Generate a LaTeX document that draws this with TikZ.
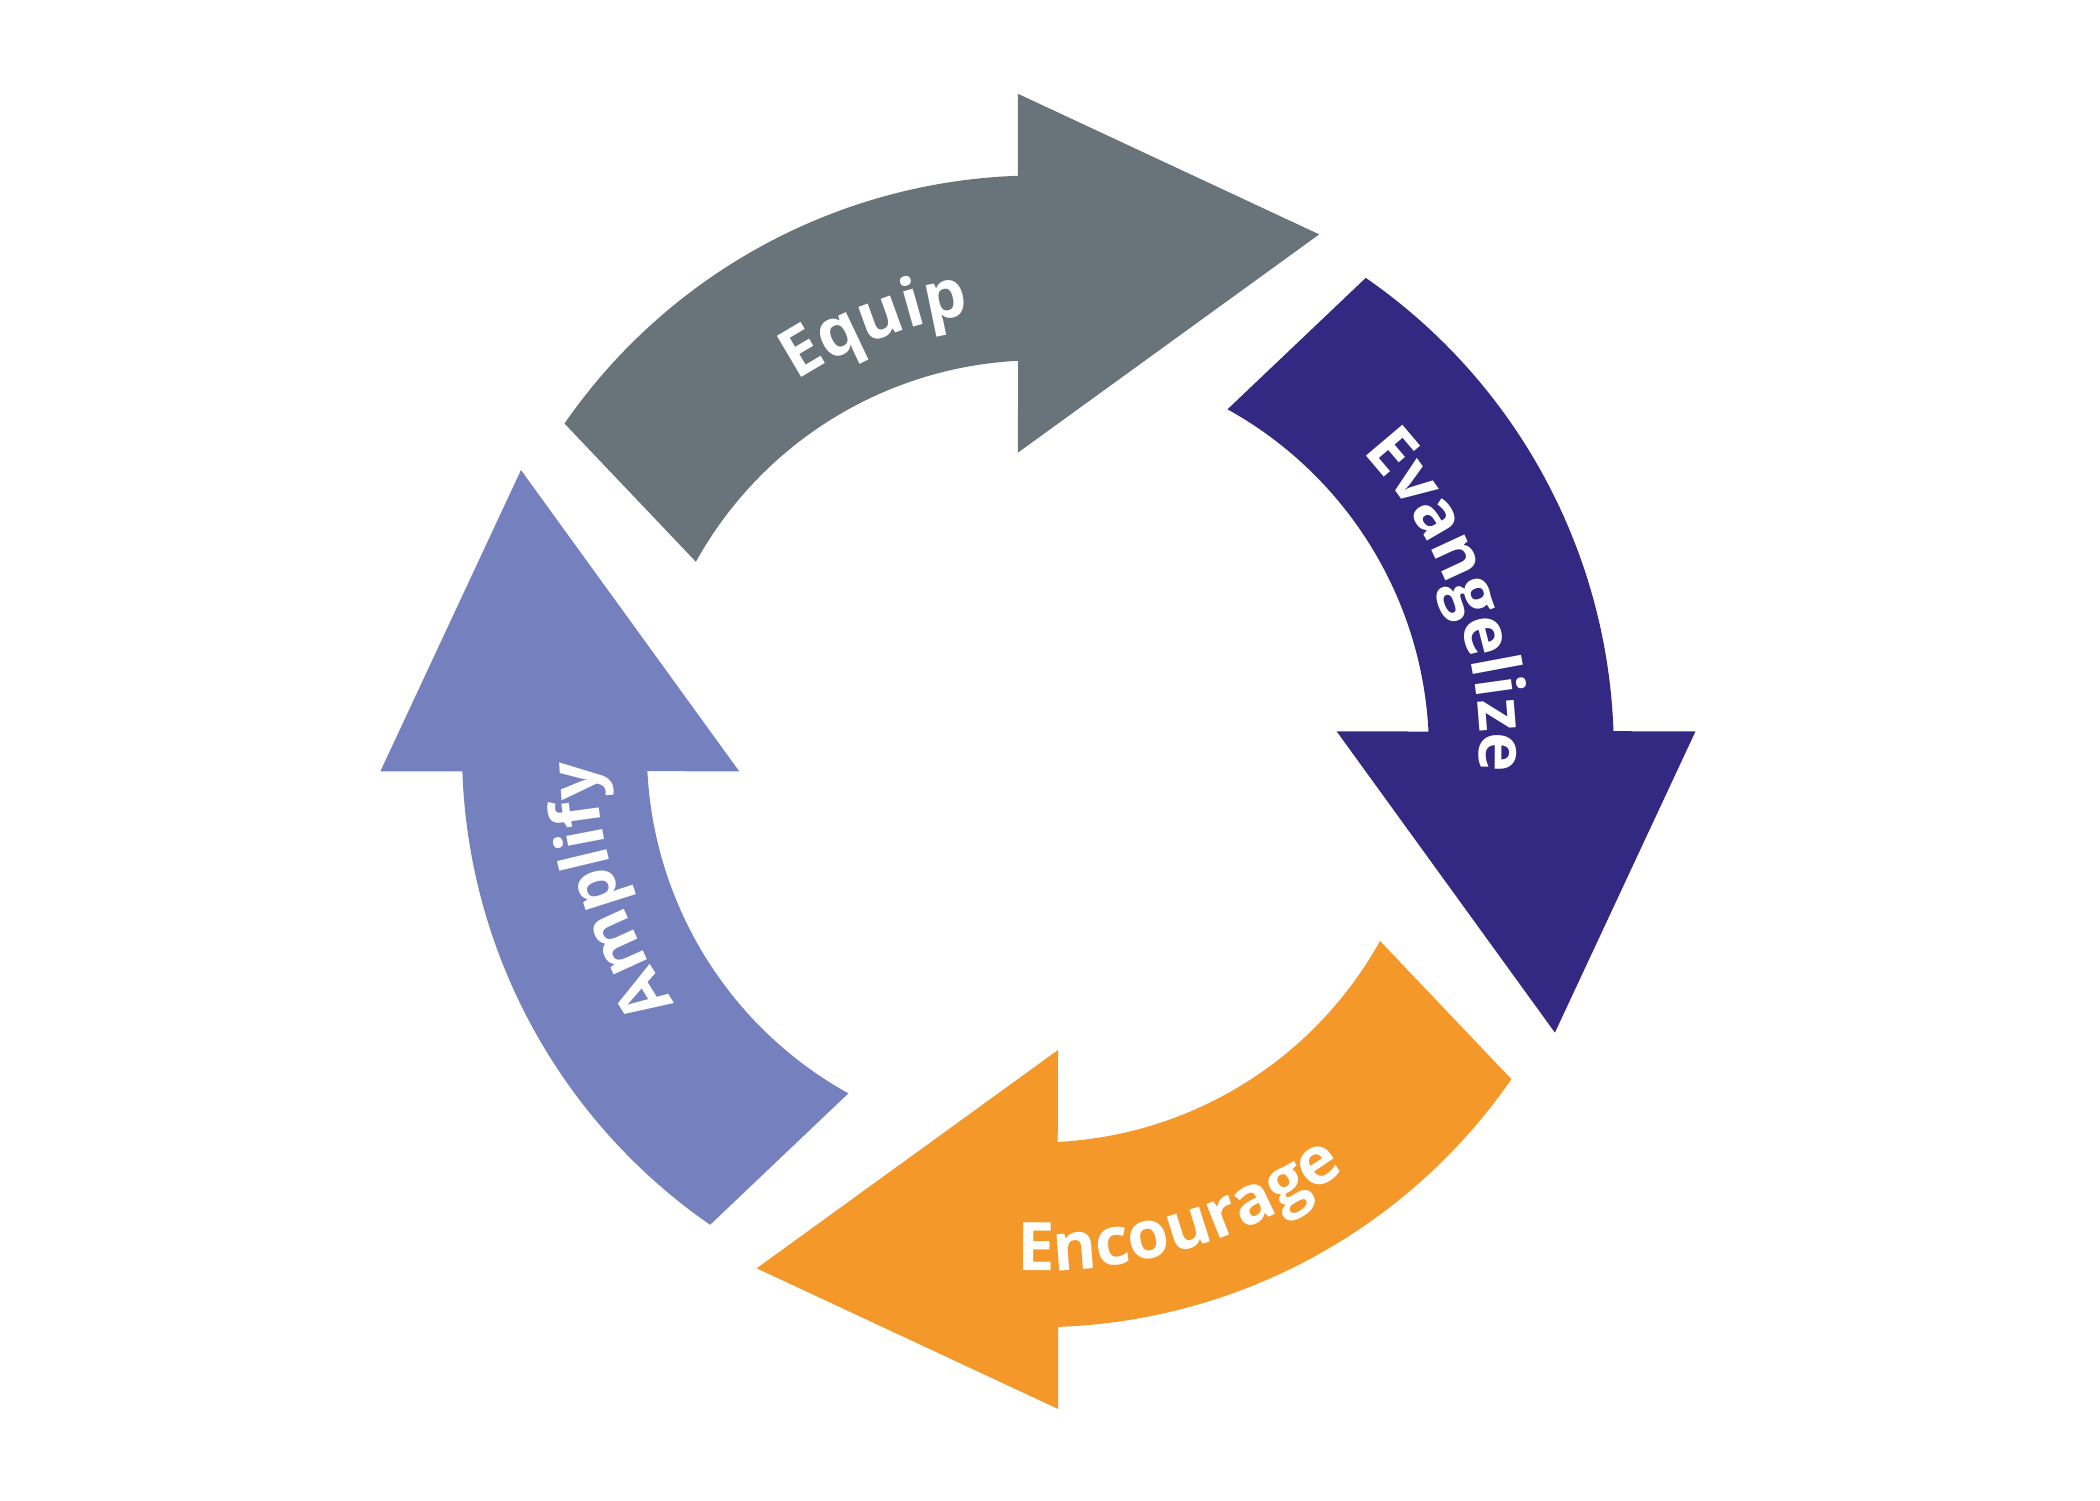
\documentclass[tikz,border=0pt]{standalone}
\usepackage{fontspec}
\setmainfont{Open Sans}
\usetikzlibrary{decorations.text}
\definecolor{cgray}{HTML}{68737A}
\definecolor{cpurple}{HTML}{332882}
\definecolor{corange}{HTML}{F49829}
\definecolor{cblue}{HTML}{7580BE}
\tikzset{
  arrowshape/.pic={\fill[#1] (145.3:430) arc[start angle=145.3,end angle=92,radius=430] -- (-15,491) -- (210,386) -- (-15,223) -- (92.9:292) arc[start angle=92.9,end angle=151,radius=292] -- cycle;},
  lbl/.style={decorate,decoration={text along path,text align=center,text color=white,text={|\fontsize{25}{28}\selectfont\bfseries|#1}}}
}
\begin{document}
\begin{tikzpicture}[x=0.5pt,y=0.5pt]
\useasboundingbox[fill=white] (-775,-559) rectangle (793,561);
\pic (a1) at (0,0) {arrowshape=cgray};
\pic[rotate=-90] (a2) at (0,0) {arrowshape=cpurple};
\pic[rotate=-180] (a3) at (0,0) {arrowshape=corange};
\pic[rotate=-270] (a4) at (0,0) {arrowshape=cblue};
\path[lbl=Equip] (150:330) arc[start angle=150,end angle=72,radius=330];
\path[lbl=Evangelize] (70:330) arc[start angle=70,end angle=-30,radius=330];
\path[lbl=Encourage] (235:388) arc[start angle=235,end angle=339,radius=388];
\path[lbl=Amplify] (245:330) arc[start angle=245,end angle=151,radius=330];
\end{tikzpicture}
\end{document}
